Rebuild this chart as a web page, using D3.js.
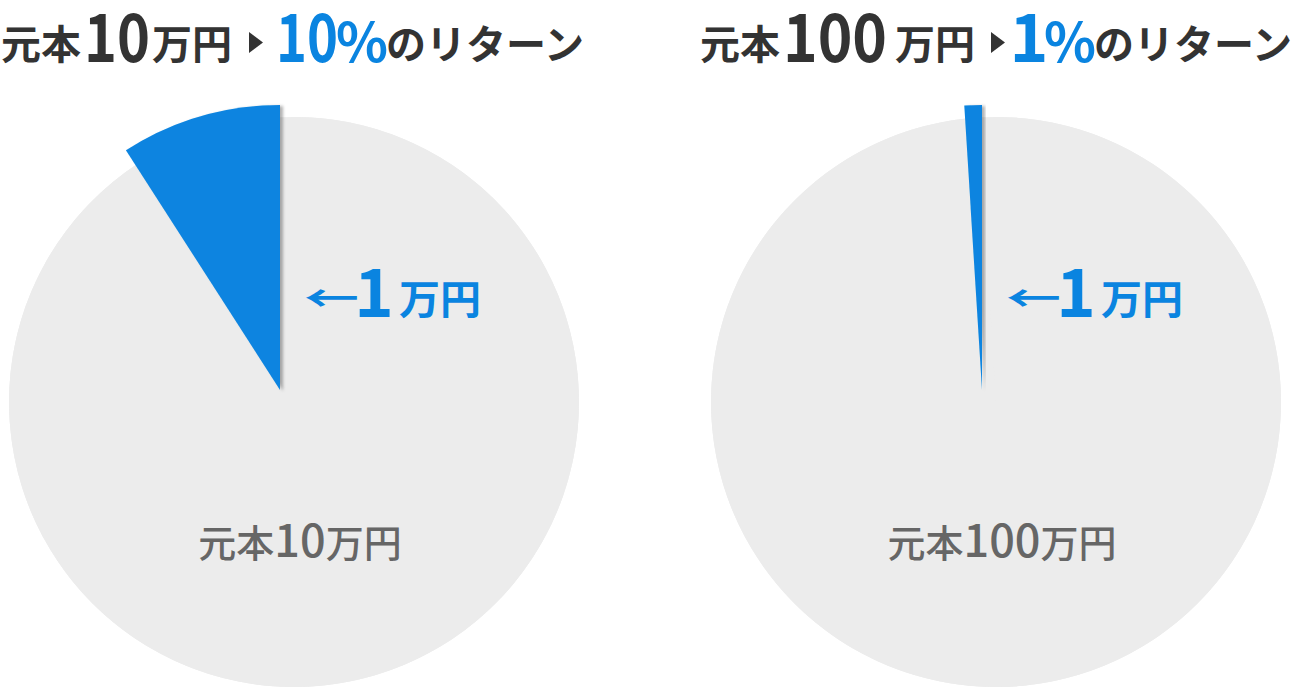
<!DOCTYPE html>
<html>
<head>
<meta charset="utf-8">
<script src="https://cdn.jsdelivr.net/npm/d3@7"></script>
<style>
  body { margin: 0; background: #fff; }
  svg { display: block; }
  text { font-family: "Noto Sans CJK JP", "Noto Sans", sans-serif; }
</style>
</head>
<body>
<div id="chart"></div>
<script>
// principal (万円) and return (万円) for each pie
var principal = [10, 100];
var profit = [1, 1];
var unit = "万円";
var principalLabel = "元本";
var returnLabel = "のリターン";

var svgWidth = 1294;
var svgHeight = 687;

var blue = "#0a84e0";
var grey = "#ececec";
var dark = "#333333";
var mid = "#666666";

var svg = d3.select("#chart")
  .append("svg")
  .attr("width", svgWidth)
  .attr("height", svgHeight);

// soft shadow under the pulled-out slice
var filter = svg.append("defs").append("filter")
  .attr("id", "shadow")
  .attr("x", "-20%").attr("y", "-20%")
  .attr("width", "140%").attr("height", "140%");
filter.append("feDropShadow")
  .attr("dx", 3).attr("dy", 1)
  .attr("stdDeviation", 1.5)
  .attr("flood-color", "#000")
  .attr("flood-opacity", 0.3);

var radius = 285;
var centerX = [294, 996];
var centerY = 402;

var pie = d3.pie().sort(null).value(d => d);
var arc = d3.arc().innerRadius(0).outerRadius(radius);

// title layout: ink centre / left of each piece, per chart
var titleX = [
  { p: 1, num: 117, numLen: 66, u: 152, tri: 249, rate: 307, rateLen: 62, pct: 362, ret: 386 },
  { p: 700, num: 835, numLen: 104, u: 895, tri: 991, rate: 1029, rateLen: null, pct: 1070, ret: 1094 }
];

function put(g, str, x, y, size, color, weight, len) {
  var t = g.append("text")
    .attr("x", x)
    .attr("y", y)
    .attr("font-size", size)
    .attr("font-weight", weight || 700)
    .attr("fill", color)
    .text(str);
  if (len) t.attr("textLength", len).attr("lengthAdjust", "spacingAndGlyphs");
  return t;
}

principal.forEach(function(p, i) {
  var cx = centerX[i];
  var g = svg.append("g").attr("transform", `translate(${cx}, ${centerY})`);
  var slices = pie([p, profit[i]]);

  // full grey disc, the return slice sits pulled out on top of it
  g.append("circle").attr("r", radius).attr("fill", grey);

  g.selectAll("path")
    .data(slices)
    .enter()
    .append("path")
    .attr("d", arc)
    .attr("fill", (d, j) => j === 0 ? grey : blue)
    .attr("transform", (d, j) => j === 1 ? "translate(-14, -12)" : null)
    .attr("filter", (d, j) => j === 1 ? "url(#shadow)" : null);

  // title
  var tx = titleX[i];
  var rate = Math.round(profit[i] / p * 100);
  var tg = svg.append("g");
  put(tg, principalLabel, tx.p, 59, 40, dark);
  put(tg, String(p), tx.num, 62, 66, dark, 700, tx.numLen).attr("text-anchor", "middle");
  put(tg, unit, tx.u, 59, 40, dark);
  tg.append("path")
    .attr("d", `M${tx.tri},32L${tx.tri + 14},42.5L${tx.tri},53Z`)
    .attr("fill", dark);
  put(tg, String(rate), tx.rate, 62, 66, blue, 700, tx.rateLen).attr("text-anchor", "middle");
  put(tg, "%", tx.pct, 62, 54, blue, 700).attr("text-anchor", "middle");
  put(tg, returnLabel, tx.ret, 59, 40, dark);

  // return label beside the slice
  put(svg, "←", cx + 10, 312, 36, blue, 700, 55);
  put(svg, String(profit[i]), cx + 80, 317, 67, blue, 700).attr("text-anchor", "middle");
  put(svg, unit, cx + 105, 314, 40, blue, 700, 82);

  // principal label
  var lab = svg.append("text")
    .attr("x", cx + 6)
    .attr("y", 557)
    .attr("text-anchor", "middle")
    .attr("font-weight", 500)
    .attr("fill", mid);
  lab.append("tspan").attr("font-size", 38).text(principalLabel);
  lab.append("tspan").attr("font-size", 45).text(String(p));
  lab.append("tspan").attr("font-size", 38).text(unit);
});
</script>
</body>
</html>
